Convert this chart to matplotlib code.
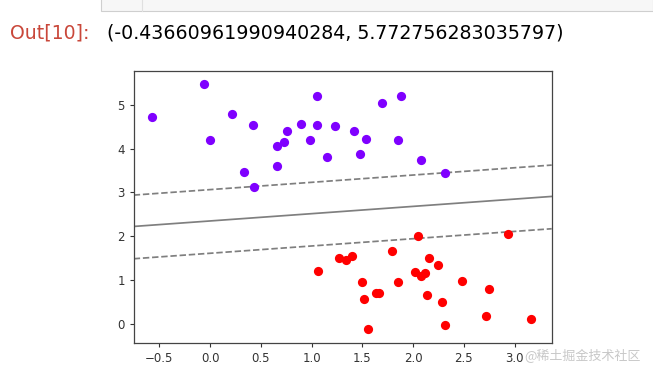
import matplotlib
matplotlib.use("Agg")
import matplotlib.pyplot as plt
from matplotlib.patches import Rectangle
import numpy as np

# class 0 (purple) points
x0 = [-0.568, -0.056, -0.003, 0.214, 0.424, 0.335, 0.430, 0.657, 0.657, 0.732,
      0.755, 0.897, 0.988, 1.051, 1.057, 1.149, 1.228, 1.419, 1.534, 1.481,
      1.698, 1.879, 1.856, 2.079, 2.318]
y0 = [4.71, 5.48, 4.19, 4.79, 4.54, 3.47, 3.13, 4.05, 3.61, 4.14,
      4.41, 4.57, 4.20, 5.19, 4.54, 3.81, 4.51, 4.39, 4.22, 3.87,
      5.04, 5.20, 4.19, 3.73, 3.44]
# class 1 (red) points
x1 = [1.061, 1.274, 1.340, 1.399, 1.796, 2.046, 2.933, 1.494, 1.521, 1.635,
      1.665, 1.553, 1.852, 2.017, 2.076, 2.121, 2.161, 2.249, 2.141, 2.283,
      2.318, 2.480, 2.746, 2.720, 3.166]
y1 = [1.20, 1.50, 1.45, 1.56, 1.66, 2.00, 2.05, 0.95, 0.58, 0.70,
      0.70, -0.11, 0.95, 1.18, 1.10, 1.16, 1.50, 1.34, 0.67, 0.51,
      -0.01, 0.99, 0.81, 0.18, 0.11]

# decision boundary and margins: y = intercept + slope * x
line_intercepts = [1.614, 2.350, 3.064]   # lower margin, boundary, upper margin
line_slope = 0.166
line_styles = ['--', '-', '--']

xlim = (-0.752, 3.366)
ylim = (-0.43660961990940284, 5.772756283035797)
xticks = [-0.5, 0.0, 0.5, 1.0, 1.5, 2.0, 2.5, 3.0]
yticks = [0, 1, 2, 3, 4, 5]

fig = plt.figure(figsize=(6.53, 3.81), dpi=100)
fig.patch.set_facecolor('white')

# input cell remnant at the top
fig.patches.append(Rectangle((101 / 653, 1 - 11 / 381), 1 - 101 / 653, 11 / 381 + 0.01,
                             transform=fig.transFigure, facecolor='#f7f7f7',
                             edgecolor='#cfcfcf', lw=0.8))
fig.add_artist(plt.Line2D([142 / 653, 142 / 653], [1 - 11 / 381, 1],
                          transform=fig.transFigure, color='#e0e0e0', lw=0.8))

fig.text(10 / 653, 1 - 33 / 381, "Out[10]:", color='#C9473A', fontsize=13.6,
         va='center', ha='left', family='DejaVu Sans')
fig.text(107 / 653, 1 - 33 / 381, "(-0.43660961990940284, 5.772756283035797)",
         color='black', fontsize=13.7, va='center', ha='left', family='DejaVu Sans')

ax = fig.add_axes([133.7 / 653, 1 - 343.3 / 381, (551.7 - 133.7) / 653, (343.3 - 70.7) / 381])
ax.scatter(x0, y0, s=44, color='#7f00ff', zorder=3, linewidths=0)
ax.scatter(x1, y1, s=44, color='#ff0000', zorder=3, linewidths=0)

xx = np.array(xlim)
for b, ls in zip(line_intercepts, line_styles):
    ax.plot(xx, b + line_slope * xx, color='k', alpha=0.5, ls=ls, lw=1.25)

ax.set_xlim(xlim)
ax.set_ylim(ylim)
ax.set_xticks(xticks)
ax.set_yticks(yticks)
ax.set_xticklabels([f"{t:.1f}".replace('-', '\u2212') for t in xticks])
ax.tick_params(labelsize=8.5, length=3, width=0.8, colors='#333333')
for s in ax.spines.values():
    s.set_color('#444444')
    s.set_linewidth(0.9)

fig.text(641 / 653, 1 - 356 / 381, "@稀土掘金技术社区", color='#c8c8c8', fontsize=9.4,
         ha='right', va='center', family=['Noto Sans CJK SC', 'DejaVu Sans'])

fig.savefig("out.png", dpi=100, facecolor='white')
